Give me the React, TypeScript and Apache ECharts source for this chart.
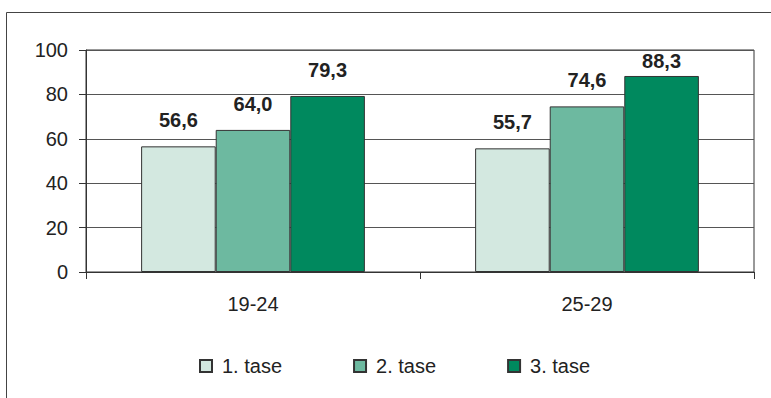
import React, { useEffect, useRef } from "react";
import * as echarts from "echarts";

const categories = ["19-24", "25-29"];
const seriesNames = ["1. tase", "2. tase", "3. tase"];
const stage1 = [56.6, 55.7];
const stage2 = [64.0, 74.6];
const stage3 = [79.3, 88.3];
const yTicks = { min: 0, max: 100, interval: 20 };
const colors = ["#d3e8e0", "#6db9a0", "#00895e"];

const FONT = "'Liberation Sans', Arial, sans-serif";

export default function App() {
  const ref = useRef<HTMLDivElement>(null);
  useEffect(() => {
    if (!ref.current) return;
    const chart = echarts.init(ref.current, undefined, { renderer: "svg" });
    const values = [stage1, stage2, stage3];
    const fmt = (v: number) => v.toFixed(1).replace(".", ",");
    chart.setOption({
      animation: false,
      backgroundColor: "#ffffff",
      textStyle: { fontFamily: FONT },
      graphic: [
        {
          type: "rect",
          shape: { x: 6.5, y: 12.5, width: 800, height: 420 },
          style: { fill: "none", stroke: "#444", lineWidth: 1 },
          silent: true,
        },
      ],
      grid: {
        left: 86,
        right: 17,
        top: 50,
        bottom: 126,
        show: true,
        borderColor: "#333",
        borderWidth: 1,
        backgroundColor: "transparent",
      },
      legend: {
        left: 194,
        top: 351,
        itemWidth: 12,
        itemHeight: 12,
        itemGap: 71,
        icon: "rect",
        textStyle: {
          fontFamily: FONT,
          fontSize: 20,
          color: "#222",
          padding: [0, 0, 0, 5],
        },
        data: seriesNames,
      },
      xAxis: {
        type: "category",
        data: categories,
        axisLine: { show: true, lineStyle: { color: "#333", width: 1 } },
        axisTick: { show: true, length: 7, lineStyle: { color: "#333" } },
        axisLabel: { fontSize: 20, color: "#222", margin: 22, fontFamily: FONT },
      },
      yAxis: {
        type: "value",
        min: yTicks.min,
        max: yTicks.max,
        interval: yTicks.interval,
        axisLine: { show: true, lineStyle: { color: "#333", width: 1 } },
        axisTick: { show: true, length: 7, lineStyle: { color: "#333" } },
        splitLine: { show: true, lineStyle: { color: "#555", width: 1 } },
        axisLabel: { fontSize: 20, color: "#222", margin: 18, fontFamily: FONT },
      },
      series: seriesNames.map((name, i) => ({
        name,
        type: "bar",
        data: values[i].map((v) =>
          v > 85 ? { value: v, label: { distance: 5 } } : v
        ),
        barGap: "0%",
        barCategoryGap: "33%",
        itemStyle: { color: colors[i], borderColor: "#333", borderWidth: 1 },
        label: {
          show: true,
          position: "top",
          distance: 16,
          formatter: (p: any) => fmt(p.value),
          fontSize: 20,
          fontWeight: "bold",
          color: "#222",
          fontFamily: FONT,
        },
      })),
    });
    return () => chart.dispose();
  }, []);
  return (
    <div
      ref={ref}
      style={{ position: "fixed", left: 0, top: 0, width: 771, height: 398 }}
    />
  );
}
